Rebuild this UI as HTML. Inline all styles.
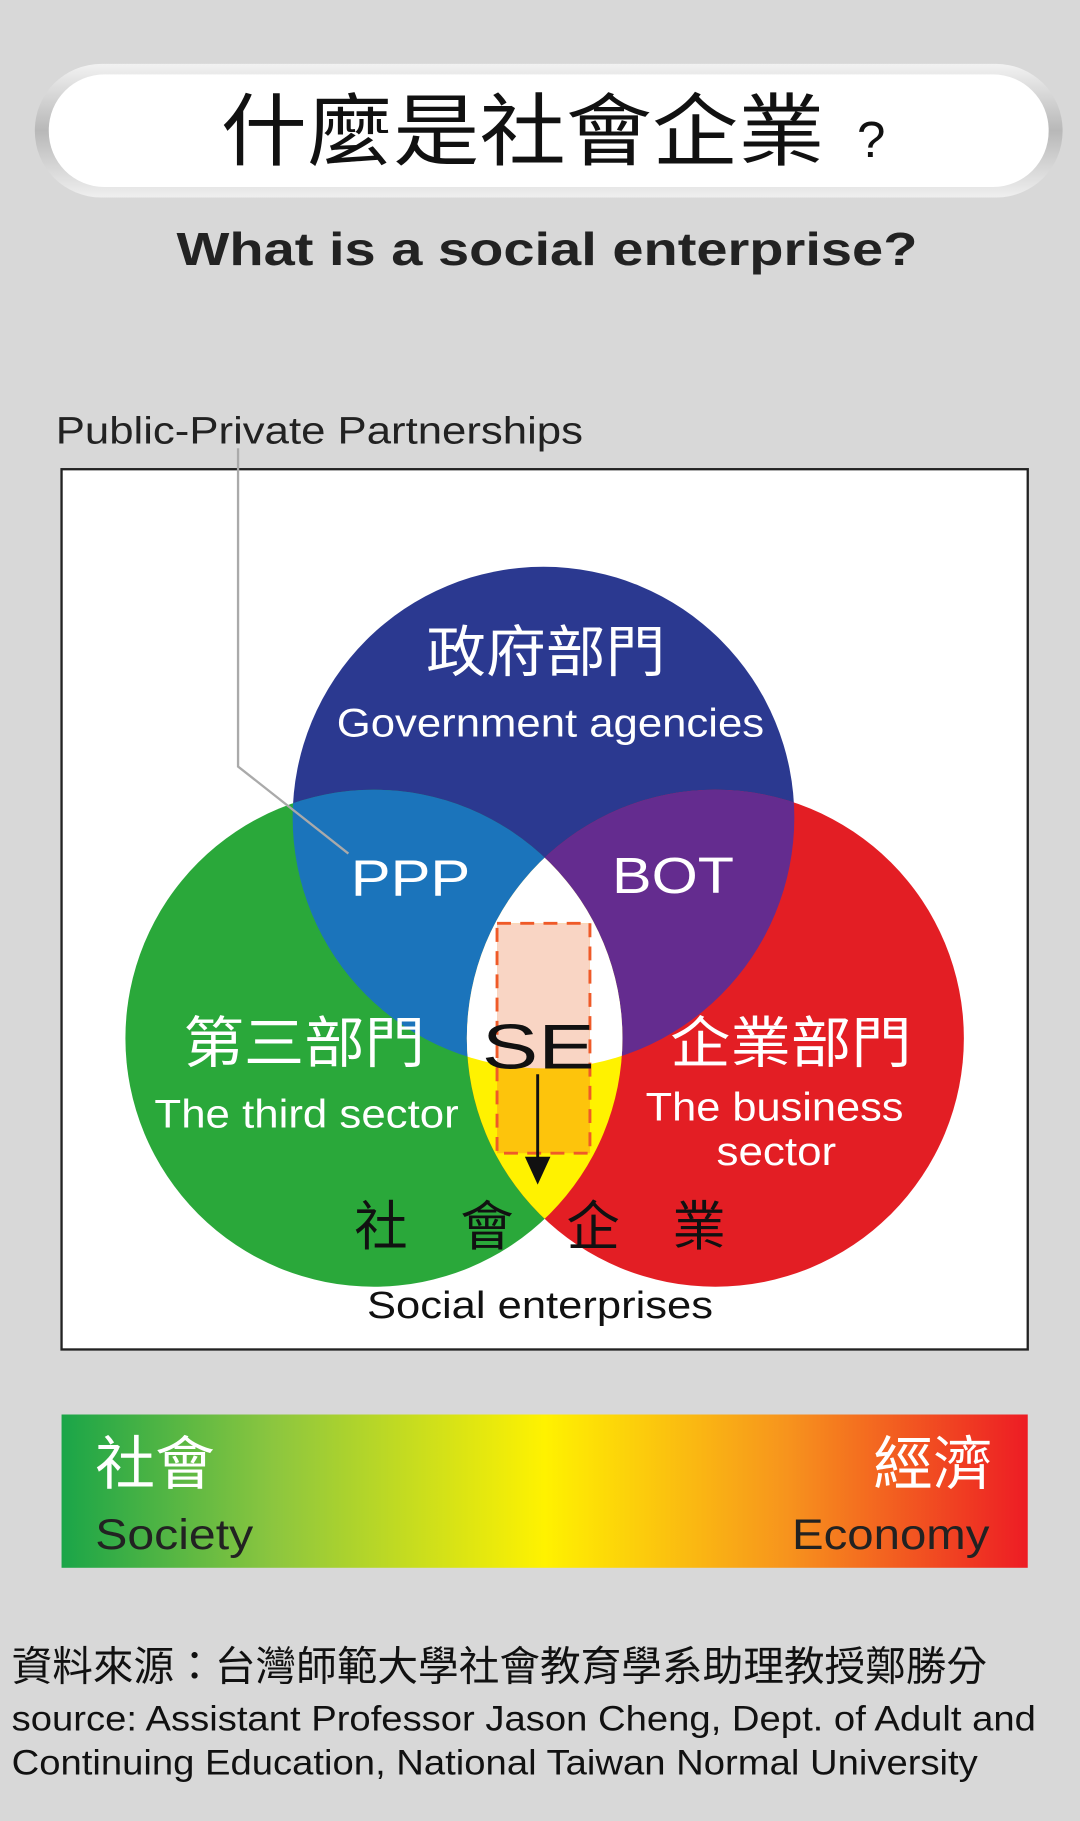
<!DOCTYPE html>
<html><head><meta charset="utf-8"><style>
html,body{margin:0;padding:0;background:#d8d8d8}
svg{display:block}
text{font-family:"Liberation Sans","Noto Sans CJK TC",sans-serif}
</style></head><body>
<svg width="1080" height="1821" viewBox="0 0 930 1568" xmlns="http://www.w3.org/2000/svg">
<defs>
<linearGradient id="pill" x1="0" y1="0" x2="0" y2="1">
<stop offset="0" stop-color="#f2f2f2"/><stop offset="0.5" stop-color="#b8b8b8"/><stop offset="1" stop-color="#efefef"/>
</linearGradient>
<linearGradient id="bar" x1="0" y1="0" x2="1" y2="0">
<stop offset="0" stop-color="#1aa548"/><stop offset="0.22" stop-color="#8cc63f"/><stop offset="0.5" stop-color="#fff200"/><stop offset="0.75" stop-color="#f7941d"/><stop offset="1" stop-color="#ed1c24"/>
</linearGradient>
<clipPath id="cb"><circle cx="468" cy="704" r="216"/></clipPath>
<clipPath id="cg"><circle cx="322" cy="894" r="214"/></clipPath>
<clipPath id="cr"><circle cx="616" cy="894" r="214"/></clipPath>
</defs>
<rect width="930" height="1568" fill="#d8d8d8"/>
<rect x="30" y="55" width="885" height="115" rx="57" fill="url(#pill)"/>
<rect x="42" y="64" width="861" height="97" rx="48" fill="#fff"/>
<text x="190" y="137" font-size="68" textLength="520" lengthAdjust="spacingAndGlyphs" fill="#111">什麼是社會企業</text>
<text x="738" y="135" font-size="44" fill="#111">?</text>
<text x="152" y="228" font-size="40" font-weight="bold" textLength="638" lengthAdjust="spacingAndGlyphs" fill="#222">What is a social enterprise?</text>
<text x="48" y="382" font-size="33" textLength="454" lengthAdjust="spacingAndGlyphs" fill="#222">Public-Private Partnerships</text>
<rect x="53" y="404" width="832" height="758" fill="#fff" stroke="#222" stroke-width="2"/>
<circle cx="468" cy="704" r="216" fill="#2b3990"/>
<circle cx="322" cy="894" r="214" fill="#2aa83a"/>
<circle cx="616" cy="894" r="214" fill="#e31e24"/>
<g clip-path="url(#cb)"><circle cx="322" cy="894" r="214" fill="#1b74bb"/><circle cx="616" cy="894" r="214" fill="#642c8f"/></g>
<g clip-path="url(#cg)"><circle cx="616" cy="894" r="214" fill="#fff200"/></g>
<g clip-path="url(#cb)"><g clip-path="url(#cg)"><circle cx="616" cy="894" r="214" fill="#fff"/></g></g>
<polyline points="205,386 205,660 300,735" fill="none" stroke="#aaa" stroke-width="2"/>
<rect x="428" y="795" width="80" height="198" fill="#fdc40c"/>
<g clip-path="url(#cb)"><rect x="428" y="795" width="80" height="198" fill="#f9d5c4"/></g>
<rect x="428" y="795" width="80" height="198" fill="none" stroke="#ef5a28" stroke-width="2.5" stroke-dasharray="12,8"/>
<line x1="463" y1="925" x2="463" y2="1000" stroke="#111" stroke-width="2.5"/>
<polygon points="452,996 474,996 463,1020" fill="#111"/>
<text x="367" y="578" font-size="48" textLength="206" lengthAdjust="spacingAndGlyphs" fill="#fff">政府部門</text>
<text x="290" y="634" font-size="34" textLength="368" lengthAdjust="spacingAndGlyphs" fill="#fff">Government agencies</text>
<text x="302" y="771" font-size="44" textLength="103" lengthAdjust="spacingAndGlyphs" fill="#fff">PPP</text>
<text x="527" y="769" font-size="44" textLength="105" lengthAdjust="spacingAndGlyphs" fill="#fff">BOT</text>
<text x="158" y="915" font-size="48" textLength="208" lengthAdjust="spacingAndGlyphs" fill="#fff">第三部門</text>
<text x="133" y="971" font-size="34" textLength="262" lengthAdjust="spacingAndGlyphs" fill="#fff">The third sector</text>
<text x="577" y="915" font-size="48" textLength="208" lengthAdjust="spacingAndGlyphs" fill="#fff">企業部門</text>
<text x="556" y="965" font-size="34" textLength="222" lengthAdjust="spacingAndGlyphs" fill="#fff">The business</text>
<text x="617" y="1003" font-size="34" textLength="103" lengthAdjust="spacingAndGlyphs" fill="#fff">sector</text>
<text x="415" y="920" font-size="54" textLength="97" lengthAdjust="spacingAndGlyphs" fill="#111">SE</text>
<text x="305" y="1072" font-size="46" textLength="320" lengthAdjust="spacing" fill="#111">社會企業</text>
<text x="316" y="1135" font-size="33" textLength="298" lengthAdjust="spacingAndGlyphs" fill="#111">Social enterprises</text>
<rect x="53" y="1218" width="832" height="132" fill="url(#bar)"/>
<text x="82" y="1278" font-size="50" textLength="103" lengthAdjust="spacingAndGlyphs" fill="#fff">社會</text>
<text x="82" y="1334" font-size="37" textLength="136" lengthAdjust="spacingAndGlyphs" fill="#222">Society</text>
<text x="752" y="1278" font-size="50" textLength="103" lengthAdjust="spacingAndGlyphs" fill="#fff">經濟</text>
<text x="682" y="1334" font-size="37" textLength="170" lengthAdjust="spacingAndGlyphs" fill="#222">Economy</text>
<text x="10" y="1447" font-size="35" textLength="840" lengthAdjust="spacingAndGlyphs" fill="#111">資料來源：台灣師範大學社會教育學系助理教授鄭勝分</text>
<text x="10" y="1490" font-size="30" textLength="882" lengthAdjust="spacingAndGlyphs" fill="#111">source: Assistant Professor Jason Cheng, Dept. of Adult and</text>
<text x="10" y="1528" font-size="30" textLength="832" lengthAdjust="spacingAndGlyphs" fill="#111">Continuing Education, National Taiwan Normal University</text>
</svg>
</body></html>
